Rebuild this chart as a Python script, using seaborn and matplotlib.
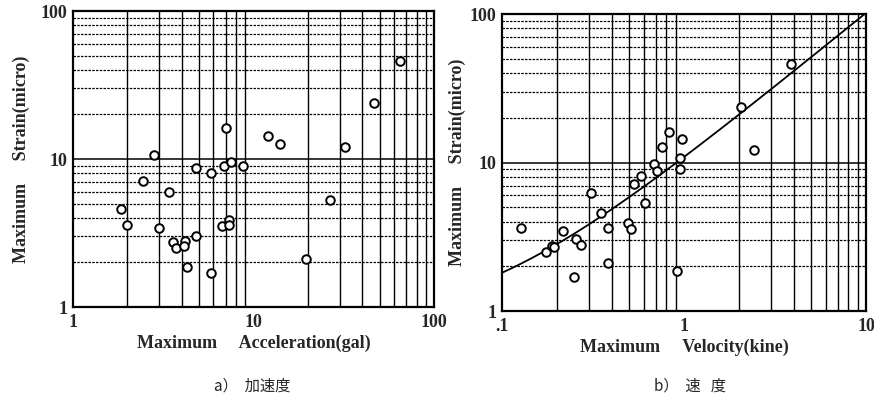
import numpy as np
import pandas as pd
import matplotlib
matplotlib.use("Agg")
import matplotlib.pyplot as plt
import seaborn as sns
from matplotlib.ticker import FixedLocator, NullFormatter

# a) 加速度 : maximum acceleration (gal) vs maximum strain (micro)
accel_gal = [1.85, 2.0, 2.8, 2.45, 3.4, 3.0, 3.6, 3.7, 4.2, 4.1, 4.3, 4.8, 4.8,
             5.8, 5.8, 6.7, 7.0, 6.9, 7.5, 7.35, 7.35, 8.7, 12.0, 14.1, 19.5,
             26.6, 32.0, 46.5, 65.0]
accel_strain = [4.6, 3.6, 10.6, 7.1, 6.0, 3.4, 2.75, 2.5, 2.8, 2.6, 1.87, 3.0, 8.7,
                8.0, 1.7, 3.55, 16.1, 9.0, 9.6, 3.85, 3.56, 9.0, 14.3, 12.6, 2.1,
                5.25, 12.0, 24.0, 46.0]

# b) 速度 : maximum velocity (kine) vs maximum strain (micro)
vel_kine = [0.127, 0.175, 0.187, 0.193, 0.215, 0.254, 0.27, 0.25, 0.31, 0.35,
            0.38, 0.38, 0.49, 0.51, 0.53, 0.58, 0.61, 0.68, 0.71, 0.76, 0.83,
            0.91, 0.95, 0.95, 0.97, 2.06, 2.42, 3.86]
vel_strain = [3.6, 2.5, 2.75, 2.7, 3.45, 3.05, 2.8, 1.7, 6.2, 4.55, 3.6, 2.1,
              3.9, 3.55, 7.2, 8.1, 5.3, 9.7, 8.8, 12.7, 16.1, 1.86, 10.7, 9.1,
              14.4, 23.7, 12.1, 46.0]

# fitted line of panel b: strain = slope * v + intercept
fit_slope = 10.1
fit_intercept = 0.8

df_a = pd.DataFrame({"x": accel_gal, "y": accel_strain})
df_b = pd.DataFrame({"x": vel_kine, "y": vel_strain})

sns.set_style("white")
plt.rcParams["font.family"] = ["Liberation Serif", "DejaVu Serif"]

fig = plt.figure(figsize=(8.74, 3.96), dpi=100)
ax1 = fig.add_axes([0.0835, 0.2247, 0.4131, 0.7475])
ax2 = fig.add_axes([0.5744, 0.2146, 0.4165, 0.7500])

tick_font = dict(fontsize=13, fontweight="bold")
label_font = dict(fontsize=13, fontweight="bold")


def log_grid(ax, xlim, ylim):
    ax.set_xscale("log")
    ax.set_yscale("log")
    ax.set_xlim(*xlim)
    ax.set_ylim(*ylim)
    # vertical grid: every 1..9 of each decade, solid black
    d0 = int(np.floor(np.log10(xlim[0])))
    d1 = int(np.ceil(np.log10(xlim[1])))
    for d in range(d0, d1):
        for m in range(2, 10):
            ax.axvline(m * 10.0 ** d, color="black", lw=1.0, zorder=1)
    # horizontal grid: dotted minor lines, solid decade lines
    for d in range(0, 2):
        for m in range(2, 10):
            ax.axhline(m * 10.0 ** d, color="black", lw=0.9, ls=(0, (2, 1)), zorder=1)
    ax.axhline(10, color="black", lw=1.1, zorder=1)
    ax.yaxis.set_major_locator(FixedLocator([1, 10, 100]))
    ax.yaxis.set_minor_locator(FixedLocator([]))
    ax.xaxis.set_minor_locator(FixedLocator([]))
    ax.yaxis.set_minor_formatter(NullFormatter())
    ax.xaxis.set_minor_formatter(NullFormatter())
    ax.set_yticklabels(["1", "10", "100"], **tick_font)
    ax.tick_params(axis="y", length=0, pad=4)
    ax.tick_params(axis="x", length=0, pad=5)
    for s in ax.spines.values():
        s.set_color("black")
        s.set_linewidth(1.6)


log_grid(ax1, (1, 100), (1, 100))
ax1.xaxis.set_major_locator(FixedLocator([1, 10, 100]))
ax1.set_xticklabels(["1", "10", "100"], **tick_font)
sns.scatterplot(data=df_a, x="x", y="y", ax=ax1, marker="o", s=38,
                facecolor="white", edgecolor="black", linewidth=1.4, zorder=3)
ax1.set_xlabel("Maximum     Acceleration(gal)", labelpad=3, **label_font)
ax1.set_ylabel("Maximum     Strain(micro)", labelpad=8, **label_font)

log_grid(ax2, (0.1, 10), (1, 100))
ax2.xaxis.set_major_locator(FixedLocator([0.1, 1, 10]))
ax2.set_xticklabels([".1", "1", "10"], **tick_font)
fit_x = np.logspace(-1, 1, 200)
fit_y = fit_slope * fit_x + fit_intercept
sns.lineplot(x=fit_x, y=fit_y, ax=ax2, color="black", lw=1.3, zorder=2)
sns.scatterplot(data=df_b, x="x", y="y", ax=ax2, marker="o", s=38,
                facecolor="white", edgecolor="black", linewidth=1.4, zorder=3)
ax2.set_xlabel("Maximum     Velocity(kine)", labelpad=3, **label_font)
ax2.set_ylabel("Maximum     Strain(micro)", labelpad=3, **label_font)

cap_family = ["Noto Sans CJK JP", "DejaVu Sans"]
fig.text(0.288, 0.026, "a）  加速度", ha="center", va="center",
         fontsize=11, family=cap_family)
fig.text(0.789, 0.026, "b）  速   度", ha="center", va="center",
         fontsize=11, family=cap_family)

fig.savefig("out.png", dpi=100)
